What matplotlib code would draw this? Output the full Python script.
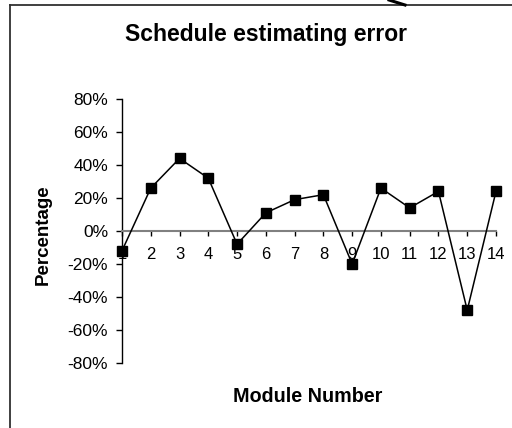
import matplotlib
matplotlib.use("Agg")
import matplotlib.pyplot as plt
from matplotlib.lines import Line2D
from matplotlib.ticker import FuncFormatter, MultipleLocator

plt.rcParams['font.family'] = ['Liberation Sans', 'DejaVu Sans']

modules = list(range(1, 15))
errors = [-0.12, 0.26, 0.44, 0.32, -0.08, 0.11, 0.19, 0.22, -0.20, 0.26, 0.14, 0.24, -0.48, 0.24]

W, H = 512, 428
fig = plt.figure(figsize=(W / 100, H / 100), dpi=100)
ax = fig.add_axes([122 / W, 1 - 363 / H, (496 - 122) / W, (363 - 99) / H])

ax.plot(modules, errors, color='black', lw=1.1, marker='s', markersize=6.5,
        markerfacecolor='black', markeredgecolor='black', zorder=3, clip_on=False)

ax.set_xlim(1, 14)
ax.set_ylim(-0.8, 0.8)
ax.yaxis.set_major_locator(MultipleLocator(0.2))
ax.yaxis.set_major_formatter(FuncFormatter(lambda v, p: f"{round(v * 100):d}%"))
ax.set_xticks(modules)
ax.set_xticklabels([str(m) for m in modules])

for s in ['top', 'right']:
    ax.spines[s].set_visible(False)
ax.spines['bottom'].set_position(('data', 0))
ax.spines['bottom'].set_color('#808080')
ax.spines['bottom'].set_linewidth(1.5)
ax.spines['left'].set_color('black')
ax.spines['left'].set_linewidth(1.0)

ax.tick_params(axis='y', direction='out', length=4, width=1, pad=6, labelsize=12.5)
ax.tick_params(axis='x', direction='out', length=3.5, width=1, pad=8, labelsize=12, color='black')

fig.text(266 / W, 1 - 35 / H, 'Schedule estimating error', ha='center', va='center',
         fontsize=16.5, fontweight='bold')
fig.text(43 / W, 1 - 235 / H, 'Percentage', ha='center', va='center', rotation=90,
         fontsize=13.5, fontweight='bold')
fig.text(308 / W, 1 - 396 / H, 'Module Number', ha='center', va='center',
         fontsize=14.2, fontweight='bold')

# chart area frame (partially visible)
fig.add_artist(Line2D([10 / W, 1.0], [1 - 5 / H, 1 - 5 / H], color='#303030', lw=1.3))
fig.add_artist(Line2D([10 / W, 10 / W], [0, 1 - 5 / H], color='#303030', lw=1.3))
fig.add_artist(Line2D([389 / W, 405 / W], [1.0, 1 - 5 / H], color='black', lw=2.2))

fig.savefig('out.png', dpi=100)
